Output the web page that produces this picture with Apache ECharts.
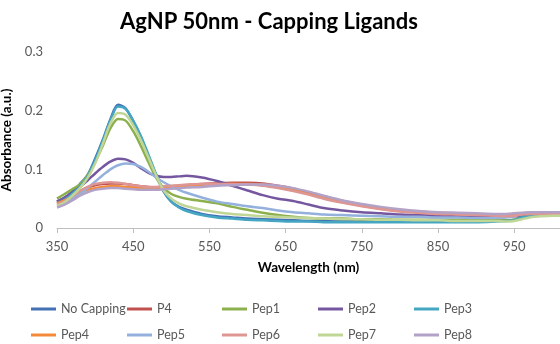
<!DOCTYPE html>
<html>
<head>
<meta charset="utf-8">
<script src="https://cdn.jsdelivr.net/npm/echarts@6/dist/echarts.min.js"></script>
<style>
  html, body { margin: 0; padding: 0; background: #fff; }
  #chart { width: 560px; height: 344px; }
</style>
</head>
<body>
<div id="chart"></div>
<script>
// wavelengths (nm) shared by all spectra
const wavelengths = [350, 360, 370, 380, 390, 400, 410, 420, 430, 440, 450, 460, 470, 480, 490, 500, 510, 520, 540, 560, 580, 600, 620, 640, 660, 680, 700, 725, 750, 775, 800, 825, 850, 875, 900, 925, 940, 950, 960, 970, 985, 1000, 1010];

const noCapping = [0.045, 0.052, 0.062, 0.075, 0.09, 0.118, 0.15, 0.185, 0.21, 0.204, 0.182, 0.155, 0.122, 0.09, 0.062, 0.045, 0.036, 0.031, 0.024, 0.02, 0.018, 0.016, 0.015, 0.014, 0.013, 0.012, 0.012, 0.012, 0.012, 0.012, 0.011, 0.011, 0.011, 0.011, 0.011, 0.012, 0.013, 0.014, 0.02, 0.022, 0.022, 0.023, 0.023];
const p4 = [0.045, 0.05, 0.056, 0.063, 0.069, 0.073, 0.075, 0.076, 0.076, 0.075, 0.073, 0.071, 0.07, 0.069, 0.07, 0.071, 0.072, 0.073, 0.075, 0.076, 0.077, 0.077, 0.076, 0.072, 0.067, 0.06, 0.054, 0.046, 0.04, 0.034, 0.03, 0.028, 0.026, 0.025, 0.024, 0.023, 0.022, 0.023, 0.024, 0.025, 0.025, 0.025, 0.025];
const pep1 = [0.05, 0.058, 0.066, 0.074, 0.09, 0.112, 0.14, 0.17, 0.186, 0.183, 0.165, 0.14, 0.112, 0.086, 0.068, 0.058, 0.053, 0.05, 0.046, 0.042, 0.036, 0.031, 0.026, 0.022, 0.019, 0.017, 0.016, 0.016, 0.015, 0.015, 0.014, 0.014, 0.014, 0.014, 0.013, 0.013, 0.013, 0.014, 0.018, 0.02, 0.021, 0.022, 0.022];
const pep2 = [0.045, 0.052, 0.06, 0.07, 0.081, 0.093, 0.104, 0.113, 0.118, 0.117, 0.111, 0.102, 0.094, 0.089, 0.087, 0.087, 0.088, 0.089, 0.086, 0.08, 0.072, 0.064, 0.056, 0.05, 0.046, 0.04, 0.034, 0.03, 0.027, 0.025, 0.023, 0.022, 0.021, 0.02, 0.019, 0.019, 0.019, 0.02, 0.022, 0.023, 0.024, 0.024, 0.024];
const pep3 = [0.042, 0.048, 0.058, 0.07, 0.087, 0.115, 0.148, 0.183, 0.207, 0.203, 0.183, 0.157, 0.125, 0.092, 0.063, 0.045, 0.035, 0.029, 0.022, 0.018, 0.016, 0.014, 0.013, 0.012, 0.011, 0.011, 0.01, 0.01, 0.01, 0.01, 0.01, 0.01, 0.01, 0.01, 0.01, 0.011, 0.012, 0.013, 0.018, 0.02, 0.021, 0.022, 0.022];
const pep4 = [0.042, 0.047, 0.053, 0.06, 0.065, 0.068, 0.07, 0.071, 0.071, 0.07, 0.069, 0.068, 0.068, 0.068, 0.069, 0.07, 0.071, 0.072, 0.073, 0.074, 0.075, 0.075, 0.074, 0.07, 0.065, 0.058, 0.051, 0.044, 0.038, 0.033, 0.029, 0.027, 0.025, 0.024, 0.023, 0.022, 0.021, 0.022, 0.024, 0.025, 0.025, 0.025, 0.025];
const pep5 = [0.038, 0.043, 0.05, 0.058, 0.068, 0.079, 0.09, 0.1, 0.107, 0.11, 0.109, 0.104, 0.096, 0.086, 0.078, 0.071, 0.065, 0.06, 0.052, 0.045, 0.041, 0.037, 0.034, 0.03, 0.027, 0.025, 0.023, 0.022, 0.021, 0.02, 0.019, 0.019, 0.018, 0.018, 0.017, 0.017, 0.018, 0.02, 0.024, 0.026, 0.026, 0.026, 0.026];
const pep6 = [0.04, 0.046, 0.054, 0.063, 0.07, 0.075, 0.077, 0.078, 0.077, 0.075, 0.073, 0.071, 0.07, 0.07, 0.071, 0.072, 0.073, 0.074, 0.075, 0.075, 0.075, 0.074, 0.072, 0.068, 0.063, 0.057, 0.05, 0.043, 0.037, 0.032, 0.028, 0.026, 0.024, 0.023, 0.022, 0.021, 0.02, 0.021, 0.023, 0.024, 0.024, 0.024, 0.024];
const pep7 = [0.038, 0.044, 0.055, 0.068, 0.085, 0.11, 0.143, 0.178, 0.196, 0.193, 0.175, 0.15, 0.12, 0.09, 0.064, 0.05, 0.042, 0.037, 0.031, 0.027, 0.024, 0.022, 0.02, 0.019, 0.018, 0.017, 0.016, 0.015, 0.015, 0.014, 0.014, 0.013, 0.013, 0.012, 0.012, 0.012, 0.011, 0.012, 0.015, 0.018, 0.02, 0.021, 0.021];
const pep8 = [0.035, 0.04, 0.047, 0.055, 0.061, 0.065, 0.067, 0.068, 0.068, 0.067, 0.066, 0.065, 0.065, 0.065, 0.066, 0.067, 0.068, 0.069, 0.07, 0.072, 0.073, 0.074, 0.074, 0.072, 0.068, 0.062, 0.055, 0.047, 0.041, 0.036, 0.032, 0.029, 0.027, 0.026, 0.025, 0.024, 0.024, 0.025, 0.026, 0.027, 0.027, 0.027, 0.027];

const seriesNames = ['No Capping', 'P4', 'Pep1', 'Pep2', 'Pep3', 'Pep4', 'Pep5', 'Pep6', 'Pep7', 'Pep8'];
const seriesValues = [noCapping, p4, pep1, pep2, pep3, pep4, pep5, pep6, pep7, pep8];
const seriesColors = ['#4470B4', '#C0504D', '#8DB04E', '#7557A0', '#44A6C2', '#F38A3A', '#93B1DC', '#DE9693', '#BFD696', '#B3A2C7'];

const yTicks = [0, 0.1, 0.2, 0.3];
const yTickLabels = ['0', '0.1', '0.2', '0.3'];

const font = 'Lato, "Open Sans", sans-serif';
const grey = '#595959';

// legend grid: 5 columns x 2 rows, one legend per entry
const legendLefts = [31, 127, 222, 318, 414];
const legendTops = [301, 327];
const legends = seriesNames.map((name, i) => ({
  left: legendLefts[i % 5],
  top: legendTops[Math.floor(i / 5)],
  padding: 0,
  itemWidth: 25,
  itemHeight: 3,
  icon: 'rect',
  data: [name],
  textStyle: {color: grey, fontSize: 12.5, fontFamily: font, lineHeight: 16},
}));

const chart = echarts.init(document.getElementById('chart'), null, {renderer: 'canvas'});
chart.setOption({
  animation: false,
  color: seriesColors,
  title: {
    text: 'AgNP 50nm - Capping Ligands',
    left: 115,
    top: 6,
    textStyle: {fontSize: 22, fontWeight: 'bold', color: '#000', fontFamily: font},
  },
  legend: legends,
  grid: {left: 57, right: 0, top: 52, bottom: 116, containLabel: false, outerBoundsMode: 'none'},
  xAxis: {
    type: 'value',
    min: 350,
    max: 1010,
    interval: 100,
    name: 'Wavelength (nm)',
    nameLocation: 'middle',
    nameGap: 33,
    nameTextStyle: {color: '#000', fontWeight: 'bold', fontSize: 13.5, fontFamily: font},
    axisLine: {lineStyle: {color: '#BFBFBF', width: 1}},
    axisTick: {inside: false, length: 5, lineStyle: {color: '#BFBFBF'}},
    axisLabel: {color: grey, fontSize: 13, fontFamily: font, margin: 12, showMaxLabel: false},
    splitLine: {show: false},
  },
  yAxis: {
    type: 'value',
    min: yTicks[0],
    max: yTicks[yTicks.length - 1],
    interval: 0.1,
    name: 'Absorbance (a.u.)',
    nameLocation: 'middle',
    nameGap: 35,
    nameTextStyle: {color: '#000', fontWeight: 'bold', fontSize: 13.5, fontFamily: font},
    axisLine: {show: false},
    axisTick: {show: false},
    axisLabel: {
      color: grey,
      fontSize: 13,
      fontFamily: font,
      margin: 14,
      formatter: v => yTickLabels[Math.round(v * 10)],
    },
    splitLine: {show: false},
  },
  series: seriesNames.map((name, i) => ({
    name: name,
    type: 'line',
    data: wavelengths.map((w, j) => [w, seriesValues[i][j]]),
    smooth: 0.3,
    symbol: 'none',
    lineStyle: {width: 2.5, color: seriesColors[i]},
    itemStyle: {color: seriesColors[i]},
  })),
});
</script>
</body>
</html>
